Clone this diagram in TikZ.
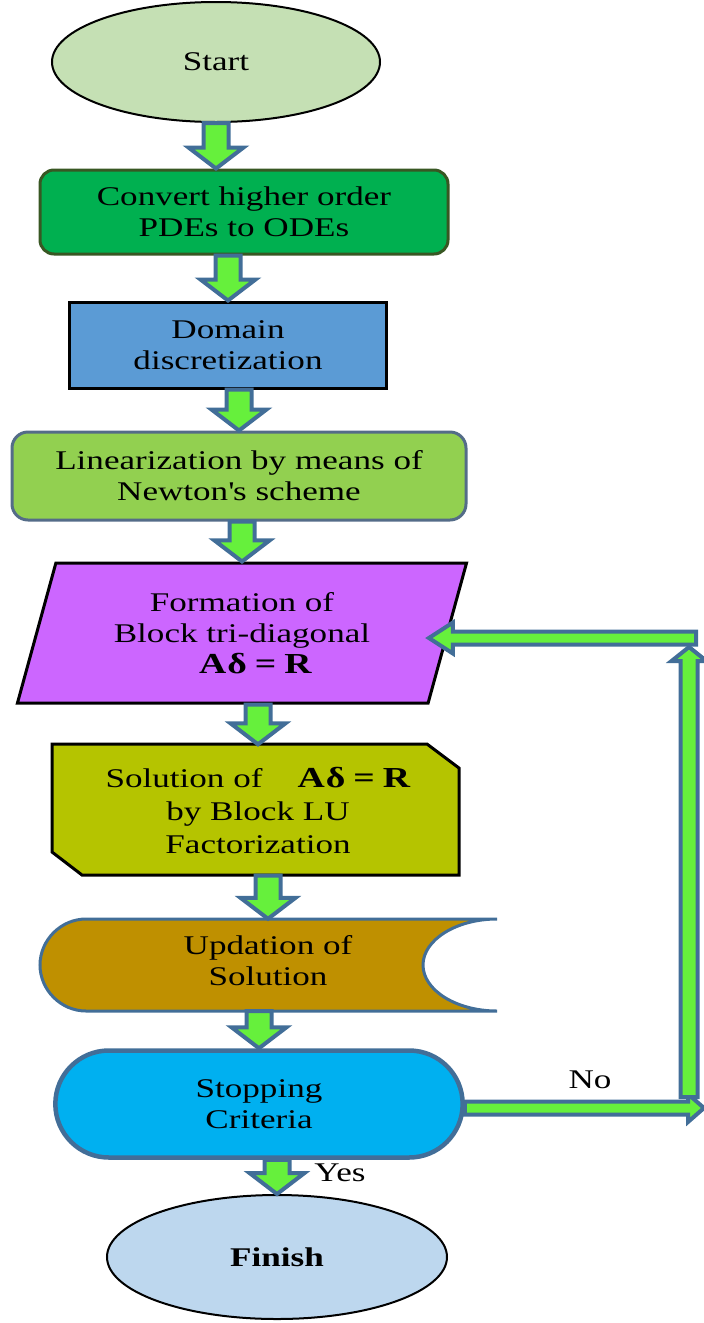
\documentclass[tikz,border=0pt]{standalone}
\usepackage{fontspec}
\setmainfont{Liberation Serif}[FakeStretch=1.3]
\usetikzlibrary{calc,shapes.geometric,shapes.misc}

\definecolor{startgreen}{RGB}{197,224,180}
\definecolor{convgreen}{RGB}{0,176,80}
\definecolor{convborder}{RGB}{56,87,35}
\definecolor{domainblue}{RGB}{91,155,213}
\definecolor{lingreen}{RGB}{146,208,80}
\definecolor{linborder}{RGB}{84,108,136}
\definecolor{paraviolet}{RGB}{204,102,255}
\definecolor{sololive}{RGB}{181,196,0}
\definecolor{updgold}{RGB}{191,144,0}
\definecolor{stopcyan}{RGB}{0,176,240}
\definecolor{finishblue}{RGB}{189,215,238}
\definecolor{arrowblue}{RGB}{66,110,152}
\definecolor{arrowgreen}{RGB}{102,240,60}

% fat arrow: shaft half width, head half width, head length, from, to
\newcommand{\blockarrow}[5]{%
  \coordinate (ba-b) at ($(#5)!#3!(#4)$);
  \filldraw[flow] ($(#4)!#1!90:(#5)$) -- ($(ba-b)!#1!90:(#5)$)
    -- ($(ba-b)!#2!90:(#5)$) -- (#5) -- ($(ba-b)!#2!-90:(#5)$)
    -- ($(ba-b)!#1!-90:(#5)$) -- ($(#4)!#1!-90:(#5)$) -- cycle;}

\newcommand{\adr}{{\fontsize{29}{31}\selectfont\textbf{A\kern1ptδ\kern8pt=\kern8ptR}}}

\begin{document}
\begin{tikzpicture}[x=1pt,y=-1pt,
  every node/.style={font=\fontsize{27}{31}\selectfont, align=center},
  box/.style={draw, line width=3pt, inner sep=0pt},
  flow/.style={draw=arrowblue, fill=arrowgreen, line width=4pt}]
\useasboundingbox (0,0) rectangle (704,1323);

% the blocks
\node[ellipse, draw, line width=2pt, fill=startgreen, minimum width=328pt,
  minimum height=120pt] (start) at (216,62) {Start};
\node[box, draw=convborder, fill=convgreen, rounded corners=14pt,
  minimum width=408pt, minimum height=84pt] (conv) at (244,212)
  {Convert higher order\\PDEs to ODEs};
\node[box, fill=domainblue, minimum width=317pt, minimum height=86pt]
  (domain) at (228,345) {Domain\\discretization};
\node[box, draw=linborder, fill=lingreen, rounded corners=16pt,
  minimum width=454pt, minimum height=88pt] (lin) at (239,476)
  {Linearization by means of\\Newton\textquotesingle s scheme};
\node[box, trapezium, trapezium left angle=72, trapezium right angle=108,
  trapezium stretches=true, fill=paraviolet, minimum width=451pt,
  minimum height=140pt] (para) at (242,633)
  {Formation of\\Block tri-diagonal\\\hspace*{1em}\adr};

% the cut corner block
\draw[line width=3pt, fill=sololive] (52,744) -- (427,744) -- (459,768)
  -- (459,875) -- (82,875) -- (52,852) -- cycle;
\node[inner sep=0pt, minimum width=407pt, minimum height=131pt,
  font=\fontsize{27}{33}\selectfont] (sol) at (258,810)
  {Solution of\hspace{1.3em}\adr\\by Block LU\\Factorization};

% the stored data block
\draw[line width=3pt, draw=arrowblue, fill=updgold] (86,919) -- (497,919)
  .. controls (456,919) and (423,940) .. (423,965)
  .. controls (423,990) and (456,1011) .. (497,1011) -- (86,1011)
  .. controls (61,1011) and (40,990) .. (40,965)
  .. controls (40,940) and (61,919) .. (86,919) -- cycle;
\node[inner sep=0pt, minimum width=457pt, minimum height=92pt] (upd)
  at (268,961) {Updation of\\Solution};

\node[rounded rectangle, draw=arrowblue, line width=4.5pt, fill=stopcyan,
  minimum width=414pt, minimum height=107pt] (stop) at (259,1104)
  {Stopping\\Criteria};
\node[ellipse, draw, line width=2pt, fill=finishblue, minimum width=340pt,
  minimum height=124pt] (finish) at (277,1257) {\textbf{Finish}};

% the labels
\node (yes) at (340,1173) {Yes};
\node (no) at (590,1080) {No};

% the main flow
\blockarrow{12.5pt}{27.5pt}{21pt}{start.south}{start.south |- conv.north}
\blockarrow{12.5pt}{27.5pt}{21pt}{conv.south -| domain.north}{domain.north}
\blockarrow{12.5pt}{27.5pt}{21pt}{domain.south -| lin.north}{lin.north}
\blockarrow{12.5pt}{27.5pt}{21pt}{lin.south -| para.north}{para.north}
\blockarrow{12.5pt}{27.5pt}{21pt}{para.south -| sol.north}{sol.north}
\blockarrow{12.5pt}{27.5pt}{21pt}{sol.south -| upd.north}{[yshift=-4pt]upd.north}
\blockarrow{12.5pt}{27.5pt}{21pt}{[yshift=-4pt]upd.south -| stop.north}{stop.north}
\blockarrow{12.5pt}{27.5pt}{21pt}{stop.south -| finish.north}{finish.north}

% the loop back
\coordinate (noend) at (704,1108);
\coordinate (upbot) at (689,1097);
\coordinate (uptop) at (689,647);
\coordinate (backin) at (696,638);
\coordinate (backend) at ([xshift=-20pt]backin -| para.east);
\blockarrow{6.5pt}{14pt}{16pt}{stop.east |- noend}{noend}
\blockarrow{8.5pt}{17.5pt}{14pt}{upbot}{uptop}
\blockarrow{6.5pt}{15.5pt}{24pt}{backin}{backend}
\end{tikzpicture}
\end{document}
